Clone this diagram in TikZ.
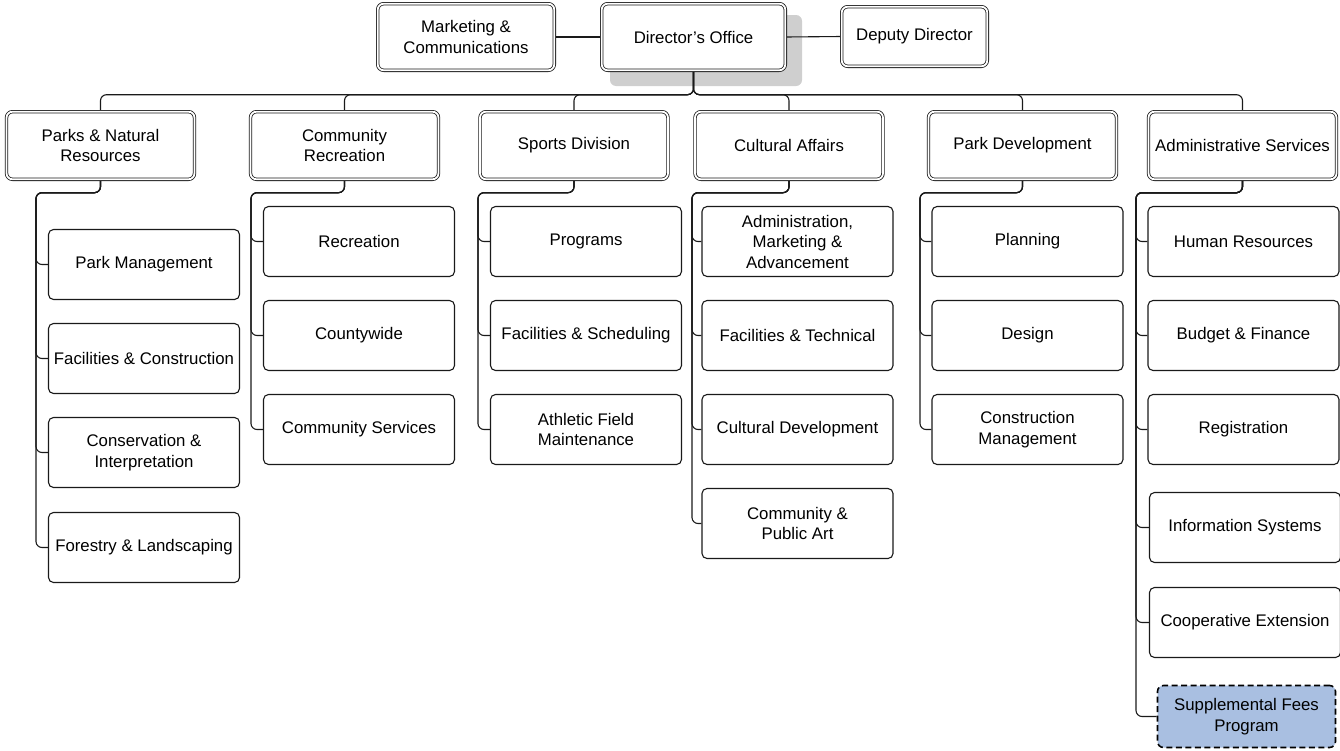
\documentclass[tikz,border=0pt]{standalone}
\usepackage{fontspec}
\setmainfont{Liberation Sans}
\usetikzlibrary{backgrounds}
\definecolor{linecol}{HTML}{1A1A1A}
\definecolor{suppfill}{HTML}{A9BFE1}
\definecolor{shadowcol}{HTML}{CFCFCF}
\begin{document}
\begin{tikzpicture}[x=1pt,y=-1pt,
  every node/.style={font=\fontsize{16.8}{20.5}\selectfont, align=center, inner sep=0pt, text=black},
  headbox/.style={draw=linecol, line width=0.8pt, double=white, double distance=1.8pt, rounded corners=6pt, fill=white},
  lvlbox/.style={headbox, minimum width=188pt, minimum height=67.6pt},
  subbox/.style={draw=linecol, line width=1.1pt, rounded corners=5pt, fill=white, minimum width=191pt, minimum height=70pt},
  suppbox/.style={draw=black, line width=1.6pt, dash pattern=on 6pt off 3.5pt, rounded corners=6pt, fill=suppfill, minimum width=178pt, minimum height=62pt},
  link/.style={draw=linecol, line width=1.1pt, rounded corners=6pt}]
\useasboundingbox (0,0) rectangle (1340,750);

% top row
\node[headbox, minimum width=176.6pt, minimum height=66.6pt] (mkt) at (466,37) {Marketing \&\\Communications};
\node[headbox, minimum width=183.6pt, minimum height=66.6pt] (dir) at (693.5,37) {Director’s Office};
\node[headbox, minimum width=145.6pt, minimum height=59.6pt] (dep) at (914.5,36.5) {Deputy Director};

% level 1
\node[lvlbox] (parks)  at (100.5,145.5) {Parks \& Natural\\Resources};
\node[lvlbox] (comrec) at (344.5,145.5) {Community\\Recreation};
\node[lvlbox] (sports) at (574,145.5) {Sports Division};
\node[lvlbox] (cult)   at (789,145.5) {Cultural Affairs};
\node[lvlbox] (pdev)   at (1022.5,145.5) {Park Development};
\node[lvlbox] (admin)  at (1242.5,145.5) {Administrative Services};

% column line coordinates
\coordinate (colA) at (36,200);
\coordinate (colB) at (251,200);
\coordinate (colC) at (478,200);
\coordinate (colD) at (692,200);
\coordinate (colE) at (920,200);
\coordinate (colF) at (1136,200);

% level 2: parks
\node[subbox] (pm)  at (144,264.5) {Park Management};
\node[subbox] (fc)  at (144,358.5) {Facilities \& Construction};
\node[subbox] (ci)  at (144,452.5) {Conservation \&\\Interpretation};
\node[subbox] (fl)  at (144,547.5) {Forestry \& Landscaping};
% community recreation
\node[subbox] (rec) at (359,241.5) {Recreation};
\node[subbox] (cw)  at (359,335.5) {Countywide};
\node[subbox] (cs)  at (359,429.5) {Community Services};
% sports
\node[subbox] (prg) at (586,241.5) {Programs};
\node[subbox] (fs)  at (586,335.5) {Facilities \& Scheduling};
\node[subbox] (afm) at (586,429.5) {Athletic Field\\Maintenance};
% cultural
\node[subbox] (ama) at (797.5,241.5) {Administration,\\Marketing \&\\Advancement};
\node[subbox] (ft)  at (797.5,335.5) {Facilities \& Technical};
\node[subbox] (cd)  at (797.5,429.5) {Cultural Development};
\node[subbox] (cpa) at (797.5,523.5) {Community \&\\Public Art};
% park development
\node[subbox] (pln) at (1027.5,241.5) {Planning};
\node[subbox] (dsg) at (1027.5,335.5) {Design};
\node[subbox] (cm)  at (1027.5,429.5) {Construction\\Management};
% admin
\node[subbox] (hr)  at (1243.5,241.5) {Human Resources};
\node[subbox] (bf)  at (1243.5,335.5) {Budget \& Finance};
\node[subbox] (reg) at (1243.5,429.5) {Registration};
\node[subbox] (is)  at (1245,527.5) {Information Systems};
\node[subbox] (ce)  at (1245,622.5) {Cooperative Extension};
\node[suppbox] (sfp) at (1246.5,716.5) {Supplemental Fees\\Program};

\begin{pgfonlayer}{background}
  \fill[shadowcol, rounded corners=6pt] (610,15) rectangle (802,86);
  \draw[link] (mkt.east) -- (dir.west);
  \draw[link] (dir.east) -- (dep.west);
  \foreach \n in {parks,comrec,sports,cult,pdev,admin}
    \draw[link] (dir.south) -- ++(0,24) -| (\n.north);
  \foreach \n in {pm,fc,ci,fl}
    \draw[link] (parks.south) -- ++(0,13) -| (colA |- \n.west) -- (\n.west);
  \foreach \n in {rec,cw,cs}
    \draw[link] (comrec.south) -- ++(0,13) -| (colB |- \n.west) -- (\n.west);
  \foreach \n in {prg,fs,afm}
    \draw[link] (sports.south) -- ++(0,13) -| (colC |- \n.west) -- (\n.west);
  \foreach \n in {ama,ft,cd,cpa}
    \draw[link] (cult.south) -- ++(0,13) -| (colD |- \n.west) -- (\n.west);
  \foreach \n in {pln,dsg,cm}
    \draw[link] (pdev.south) -- ++(0,13) -| (colE |- \n.west) -- (\n.west);
  \foreach \n in {hr,bf,reg,is,ce,sfp}
    \draw[link] (admin.south) -- ++(0,13) -| (colF |- \n.west) -- (\n.west);
\end{pgfonlayer}
\end{tikzpicture}
\end{document}
